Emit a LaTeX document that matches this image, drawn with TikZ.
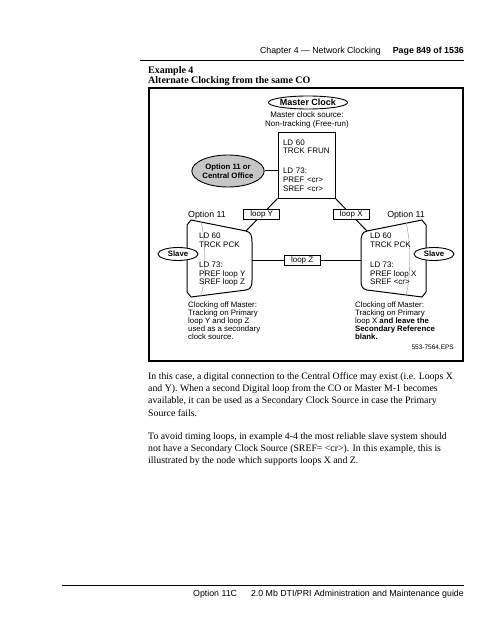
\documentclass[tikz,border=0pt]{standalone}
\usepackage{fontspec}
\setmainfont{Liberation Serif}
\setsansfont{Liberation Sans}
\usetikzlibrary{shapes.geometric}

\begin{document}
\begin{tikzpicture}[x=1pt, y=-1pt,
    diag/.style={font=\sffamily\fontsize{8}{8.8}\selectfont},
    boldlabel/.style={font=\sffamily\bfseries\fontsize{7.8}{8.6}\selectfont},
    oval/.style={draw, ellipse, line width=0.9pt, fill=white, inner sep=0pt},
    loopbox/.style={draw, fill=white, line width=0.7pt, minimum width=36, minimum height=10, inner sep=0pt, diag},
    link/.style={line width=1pt},
    caption/.style={anchor=north west, align=left, inner sep=0pt, font=\sffamily\fontsize{7.8}{8}\selectfont},
    bodytext/.style={anchor=north west, align=left, inner sep=0pt, font=\fontsize{9.8}{12.3}\selectfont},
    pagetext/.style={anchor=base east, inner sep=0pt, font=\sffamily\fontsize{8.8}{10}\selectfont},
    ]
\useasboundingbox (0,0) rectangle (500,631);

% Page header
\node[pagetext] (header) at (464,54) {Chapter 4 — Network Clocking\hspace{12pt}\textbf{Page 849 of 1536}};
\draw[line width=0.8pt] (140,60) -- (464,60); % rule

% Title
\node[anchor=base west, inner sep=0pt, font=\bfseries\fontsize{10}{11}\selectfont] (title) at (148,74) {Example 4};
\node[anchor=base west, inner sep=0pt, font=\bfseries\fontsize{10}{11}\selectfont] (subtitle) at (148,84) {Alternate Clocking from the same CO};

% Frame
\draw[line width=1.1pt] (149,88) rectangle (463,361);

% Master clock
\node[oval, minimum width=77, minimum height=13, font=\sffamily\bfseries\fontsize{9}{10}\selectfont] (master) at (308,102.5) {Master Clock};
\node[diag, align=center] (source) at (307,120) {Master clock source:\\Non-tracking (Free-run)};
\node[draw, line width=1pt, minimum width=57, minimum height=65, text width=47, inner xsep=5pt, align=left, diag] (mbox) at (306.5,165.5)
    {LD 60\\TRCK FRUN\\[11pt]LD 73:\\PREF <cr>\\SREF <cr>};

% Central office
\node[oval, fill=gray!45, minimum width=67, minimum height=32, boldlabel, align=center] (co) at (228,171) {Option 11 or\\Central Office};
\draw[link] (co.east) -- (co.east -| mbox.west);

% Slave shapes
\coordinate (slaveYne) at (246,231);
\coordinate (slaveYe) at (252,260);
\coordinate (slaveXnw) at (367,231);
\coordinate (slaveXw) at (361,260);

\draw[link] (191,220) -- (slaveYne) .. controls (251,232) and (252,236) .. (252,242) -- (252,280)
    .. controls (252,286) and (251,289) .. (246,290) -- (191,297) -- (187,292) -- (187,225) -- cycle;
\draw[gray!60, line width=0.6pt] (201,222) .. controls (206,240) and (206,277) .. (201,296);

\draw[link] (422,220) -- (slaveXnw) .. controls (362,232) and (361,236) .. (361,242) -- (361,280)
    .. controls (361,286) and (362,289) .. (367,290) -- (422,297) -- (426,292) -- (426,225) -- cycle;
\draw[gray!60, line width=0.6pt] (406,223) .. controls (411,240) and (411,277) .. (406,295);

\node[diag, anchor=north west, align=left, inner sep=0pt] (slaveYtext) at (199,233) {LD 60\\TRCK PCK\\[11pt]LD 73:\\PREF loop Y\\SREF loop Z};
\node[diag, anchor=north west, align=left, inner sep=0pt] (slaveXtext) at (370,233) {LD 60\\TRCK PCK\\[11pt]LD 73:\\PREF loop X\\SREF <cr>};

\node[font=\sffamily\fontsize{8.8}{10}\selectfont] (optY) at (207,215) {Option 11};
\node[font=\sffamily\fontsize{8.8}{10}\selectfont] (optX) at (406,215) {Option 11};

\node[oval, minimum width=40, minimum height=13, boldlabel] (slaveL) at (178,254) {Slave};
\node[oval, minimum width=40, minimum height=13, boldlabel] (slaveR) at (434,254) {Slave};

% Loops
\draw[link] (mbox.south west) -- node[loopbox] (loopY) {loop Y} (slaveYne);
\draw[link] (mbox.south east) -- node[loopbox] (loopX) {loop X} (slaveXnw);
\draw[link] (slaveYe) -- node[loopbox, pos=0.46] (loopZ) {loop Z} (slaveXw);

% Captions
\node[caption] (captY) at (188,302) {Clocking off Master:\\Tracking on Primary\\loop Y and loop Z\\used as a secondary\\clock source.};
\node[caption] (captX) at (355,302) {Clocking off Master:\\Tracking on Primary\\loop X \textbf{and leave the}\\\textbf{Secondary Reference}\\\textbf{blank.}};
\node[anchor=east, inner sep=0pt, font=\sffamily\fontsize{6.5}{7}\selectfont] (eps) at (454,347) {553-7564.EPS};

% Body text
\node[bodytext] (para1) at (148,372) {In this case, a digital connection to the Central Office may exist (i.e. Loops X\\and Y). When a second Digital loop from the CO or Master M-1 becomes\\available, it can be used as a Secondary Clock Source in case the Primary\\Source fails.};
\node[bodytext] (para2) at (148,432) {To avoid timing loops, in example 4-4 the most reliable slave system should\\not have a Secondary Clock Source (SREF= <cr>). In this example, this is\\illustrated by the node which supports loops X and Z.};

% Page footer
\draw[line width=0.8pt] (62,585) -- (464,585); % rule
\node[pagetext] (footer) at (464,596) {Option 11C\hspace{14pt}2.0 Mb DTI/PRI Administration and Maintenance guide};
\end{tikzpicture}
\end{document}
